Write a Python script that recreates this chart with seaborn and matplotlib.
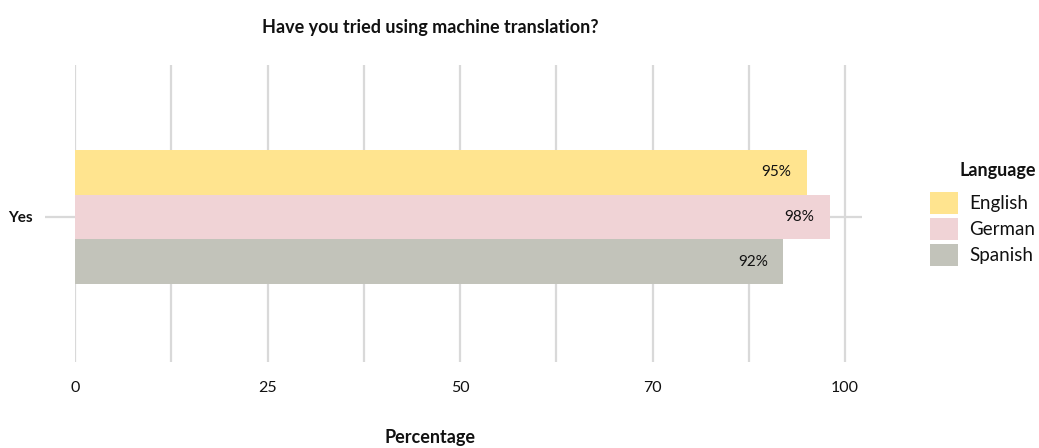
import matplotlib
matplotlib.use("Agg")
import matplotlib.pyplot as plt
import seaborn as sns
import pandas as pd

# Survey answers
answers = ["Yes"]
languages = ["English", "German", "Spanish"]
percent = [95, 98, 92]
palette = ["#FFE48F", "#F0D3D6", "#C2C3BA"]
tick_values = [0, 25, 50, 75, 100]
tick_labels = ["0", "25", "50", "70", "100"]

df = pd.DataFrame({
    "Answer": answers * len(languages),
    "Language": languages,
    "Percentage": percent,
})

sns.set_theme(style="white")
plt.rcParams["font.family"] = ["Lato", "DejaVu Sans"]
plt.rcParams["text.color"] = "#111111"
plt.rcParams["axes.labelcolor"] = "#111111"

fig = plt.figure(figsize=(10.39, 4.48), dpi=100)
ax = fig.add_axes([0.0722, 0.192, 0.7574, 0.663])

sns.barplot(data=df, y="Answer", x="Percentage", hue="Language",
            palette=palette, orient="h", width=0.8, saturation=1,
            linewidth=0, ax=ax, zorder=3)

ax.set_xlim(0, 102.2)
ax.set_ylim(0.866, -0.907)

grid_color = "#D9D9D9"
ax.set_xticks(tick_values)
ax.set_xticklabels(tick_labels, fontsize=11.5)
ax.set_xticks([12.5, 37.5, 62.5, 87.5], minor=True)
ax.grid(axis="x", which="both", color=grid_color, linewidth=1.6, zorder=0)
ax.grid(axis="y", which="major", color=grid_color, linewidth=1.6, zorder=0)
ax.set_axisbelow(True)
ax.tick_params(axis="x", which="both", length=0, pad=14, labelcolor="#111111")
ax.tick_params(axis="y", length=21.6, width=1.6, color=grid_color, pad=9,
               left=True, labelcolor="#111111")
for lab in ax.get_yticklabels():
    lab.set_fontweight("bold")
    lab.set_fontsize(11)

for s in ax.spines.values():
    s.set_visible(False)

ax.set_ylabel("")
ax.set_xlabel("Percentage", fontsize=13, fontweight="bold")
ax.xaxis.set_label_coords(0.451, -0.225)
ax.set_title("Have you tried using machine translation?", fontsize=13,
             fontweight="bold", x=0.451, y=1.0, pad=23)

# value labels just inside the bar ends
for container in ax.containers:
    for rect in container:
        w = rect.get_width()
        ax.annotate(f"{w:.0f}%", xy=(w, rect.get_y() + rect.get_height() / 2),
                    xytext=(-11, 0), textcoords="offset points",
                    ha="right", va="center", fontsize=11, color="#111111")

leg = ax.legend(title="Language", loc="upper left",
                bbox_to_anchor=(0.888, 0.655), bbox_transform=fig.transFigure,
                frameon=False, fontsize=13.5, title_fontsize=13,
                handlelength=1.5, handleheight=1.45, labelspacing=0.2,
                handletextpad=0.6, borderaxespad=0)
leg.get_title().set_fontweight("bold")
leg._legend_box.align = "right"
leg._legend_box.sep = 9

fig.savefig("out.png", dpi=100)
